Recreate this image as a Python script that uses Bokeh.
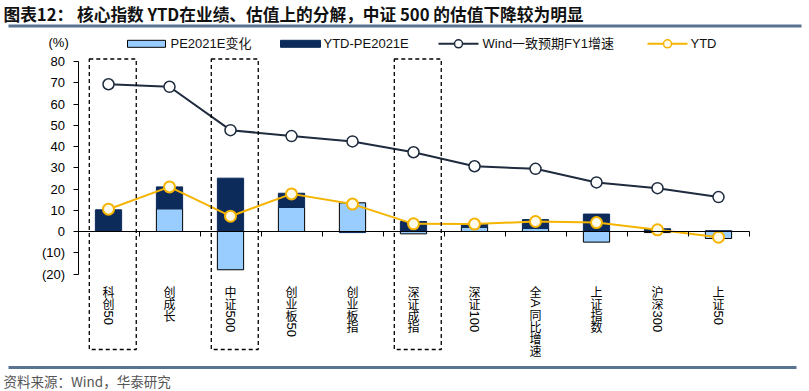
import math
from bokeh.plotting import figure
from bokeh.models import Range1d, LinearAxis, FixedTicker
from bokeh.core.properties import value
from bokeh.embed import file_html
from bokeh.resources import INLINE

# ---------------- data ----------------
categories = ["科创50", "创成长", "中证500", "创业板50", "创业板指", "深证成指",
              "深证100", "全A同比增速", "上证指数", "沪深300", "上证50"]
pe_change = [0.0, 10.7, -18.0, 11.3, 13.5, -1.1, 2.0, 1.4, -5.0, -0.5, -3.3]
ytd_minus_pe = [10.2, 10.3, 25.1, 6.7, -0.5, 4.7, 1.5, 4.2, 8.2, 1.3, 0.4]
wind_fy1 = [69.3, 68.1, 47.7, 44.9, 42.4, 37.3, 30.7, 29.5, 23.1, 20.4, 16.2]
ytd = [10.5, 21.0, 7.2, 17.7, 12.9, 3.6, 3.5, 4.7, 4.2, 0.8, -2.7]
highlighted = ["科创50", "中证500", "深证成指"]
y_ticks = [-20, -10, 0, 10, 20, 30, 40, 50, 60, 70, 80]
y_tick_labels = ["(20)", "(10)", "0", "10", "20", "30", "40", "50", "60", "70", "80"]
series_names = ["PE2021E变化", "YTD-PE2021E", "Wind一致预期FY1增速", "YTD"]
title_text = "图表12：  核心指数 YTD在业绩、估值上的分解，中证 500 的估值下降较为明显"
source_text = "资料来源：Wind，华泰研究"
unit_text = "(%)"

# ---------------- styles / layout ----------------
W, H = 808, 390
OFF = 0                      # figure sits at the page origin
X0_PAGE, PX_PER_CAT = 108.0, 61.0
Y0_PAGE, PX_PER_UNIT = 231.0, 2.125

LIGHT = "#99CCFF"
DARK = "#0C2B5B"
NAVY_LINE = "#1F2B3E"
GOLD = "#F5B400"
RULE = "#5B7393"
CJK = "Noto Sans CJK SC"
LAT = "Liberation Sans"


def dx(page_x):
    return (page_x - X0_PAGE) / PX_PER_CAT


def dy(page_y):
    return (Y0_PAGE - page_y) / PX_PER_UNIT


n = len(categories)
xs = list(range(n))

p = figure(width=W, height=H, output_backend="svg", toolbar_location=None,
           x_range=Range1d(dx(OFF), dx(OFF + W)),
           y_range=Range1d(dy(OFF + H), dy(OFF)),
           x_axis_type=None, y_axis_type=None, min_border=0)
p.outline_line_color = None
p.background_fill_color = "white"
p.border_fill_color = "white"

# ---------------- stacked bars (Excel-style: positives up, negatives down) ----------------
pos = [0.0] * n
neg = [0.0] * n
stacks = []
for s in (pe_change, ytd_minus_pe):
    bots, tops = [], []
    for i, v in enumerate(s):
        if v >= 0:
            b, t = pos[i], pos[i] + v
            pos[i] = t
        else:
            t, b = neg[i], neg[i] + v
            neg[i] = b
        bots.append(b)
        tops.append(t)
    stacks.append((bots, tops))

BAR_W = 0.43
p.vbar(x=xs, bottom=stacks[0][0], top=stacks[0][1], width=BAR_W,
       fill_color=LIGHT, line_color="black", line_width=1)
p.vbar(x=xs, bottom=stacks[1][0], top=stacks[1][1], width=BAR_W,
       fill_color=DARK, line_color=DARK, line_width=1)

# ---------------- axes ----------------
yaxis = LinearAxis(fixed_location=-0.5, bounds=(-20, 80),
                   ticker=FixedTicker(ticks=y_ticks),
                   major_label_overrides={t: l for t, l in zip(y_ticks, y_tick_labels)},
                   major_tick_out=5, major_tick_in=0, minor_tick_out=0, minor_tick_in=0,
                   major_label_standoff=8,
                   major_label_text_font=LAT, major_label_text_font_size="13px",
                   major_label_text_color="black", axis_line_color="black",
                   major_tick_line_color="black")
p.add_layout(yaxis, "left")

xaxis0 = LinearAxis(fixed_location=0, bounds=(-0.5, n - 0.5),
                    ticker=FixedTicker(ticks=[i + 0.5 for i in range(n)]),
                    major_tick_out=5, major_tick_in=0, minor_tick_out=0, minor_tick_in=0,
                    major_label_text_color=None, major_label_text_font_size="1px",
                    major_label_standoff=0,
                    axis_line_color="black", major_tick_line_color="black")
p.add_layout(xaxis0, "below")

# ---------------- lines ----------------
p.line(xs, wind_fy1, line_color=NAVY_LINE, line_width=2)
p.scatter(xs, wind_fy1, size=11, marker="circle", fill_color="white",
          line_color=NAVY_LINE, line_width=1.5)
p.line(xs, ytd, line_color=GOLD, line_width=2)
p.scatter(xs, ytd, size=11, marker="circle", fill_color="#FFFBEA",
          line_color=GOLD, line_width=2)

# ---------------- dashed highlight boxes ----------------
hx = [categories.index(c) for c in highlighted]
p.quad(left=[h - 0.315 for h in hx], right=[h + 0.455 for h in hx],
       top=dy(58.5), bottom=dy(349), fill_color=None,
       line_color="black", line_dash="4 3", line_width=1.3)

# ---------------- vertical category labels ----------------
LBL_TOP = 285.0
CJK_STEP = 11.8
DIGIT_W = 0.556 * 13
for i, lab in enumerate(categories):
    cursor = LBL_TOP
    j = 0
    while j < len(lab):
        ch = lab[j]
        if ord(ch) < 128:
            k = j
            while k < len(lab) and ord(lab[k]) < 128:
                k += 1
            run = lab[j:k]
            start = cursor + 1.5
            length = sum((0.667 * 13 if c.isalpha() else DIGIT_W) for c in run)
            p.text(x=[i], y=[dy(start)], text=[run], angle=-math.pi / 2,
                   text_align="left", text_baseline="middle",
                   text_font=value(LAT), text_font_size="13px", text_color="black")
            cursor = start + length + 1.5
            j = k
        else:
            p.text(x=[i], y=[dy(cursor + CJK_STEP / 2)], text=[ch],
                   text_align="center", text_baseline="middle",
                   text_font=value(CJK), text_font_size="12px", text_color="black")
            cursor += CJK_STEP
            j += 1

# ---------------- legend (manual, Excel-like) ----------------
LEG_Y = 43.3
p.rect(x=[dx(146)], y=[dy(LEG_Y)], width=38, height=7, width_units="screen",
       height_units="screen", fill_color=LIGHT, line_color="black", line_width=1)
p.rect(x=[dx(300)], y=[dy(LEG_Y)], width=40, height=7, width_units="screen",
       height_units="screen", fill_color=DARK, line_color=DARK, line_width=1)
p.segment(x0=[dx(438)], y0=[dy(LEG_Y)], x1=[dx(478)], y1=[dy(LEG_Y)],
          line_color=NAVY_LINE, line_width=2)
p.scatter(x=[dx(458)], y=[dy(LEG_Y)], size=8, fill_color="white",
          line_color=NAVY_LINE, line_width=1.5)
p.segment(x0=[dx(647)], y0=[dy(LEG_Y)], x1=[dx(687)], y1=[dy(LEG_Y)],
          line_color=GOLD, line_width=2)
p.scatter(x=[dx(667)], y=[dy(LEG_Y)], size=8, fill_color="#FFFBEA",
          line_color=GOLD, line_width=1.5)
leg_x = [170, 323, 482, 690]
p.text(x=[dx(v) for v in leg_x], y=[dy(LEG_Y)] * 4, text=series_names,
       text_align="left", text_baseline="middle",
       text_font=value(LAT + ", " + CJK), text_font_size="13px", text_color="#111111")

# ---------------- title / unit / source ----------------
p.text(x=[dx(3)], y=[dy(13)], text=[title_text], text_align="left",
       text_baseline="middle", text_font=value(CJK), text_font_style="bold",
       text_font_size="16.7px", text_color="#111111")
p.segment(x0=[dx(8)], y0=[dy(25.5)], x1=[dx(801)], y1=[dy(25.5)],
          line_color=RULE, line_width=3)
p.text(x=[dx(48)], y=[dy(42)], text=[unit_text], text_align="left",
       text_baseline="middle", text_font=value(LAT), text_font_size="13px",
       text_color="black")
p.segment(x0=[dx(8)], y0=[dy(367)], x1=[dx(796)], y1=[dy(367)],
          line_color=RULE, line_width=3)
p.text(x=[dx(3)], y=[dy(380)], text=[source_text], text_align="left",
       text_baseline="middle", text_font=value(CJK), text_font_size="13.5px",
       text_color="#555555")

open("out.html", "w").write(file_html(p, INLINE))
